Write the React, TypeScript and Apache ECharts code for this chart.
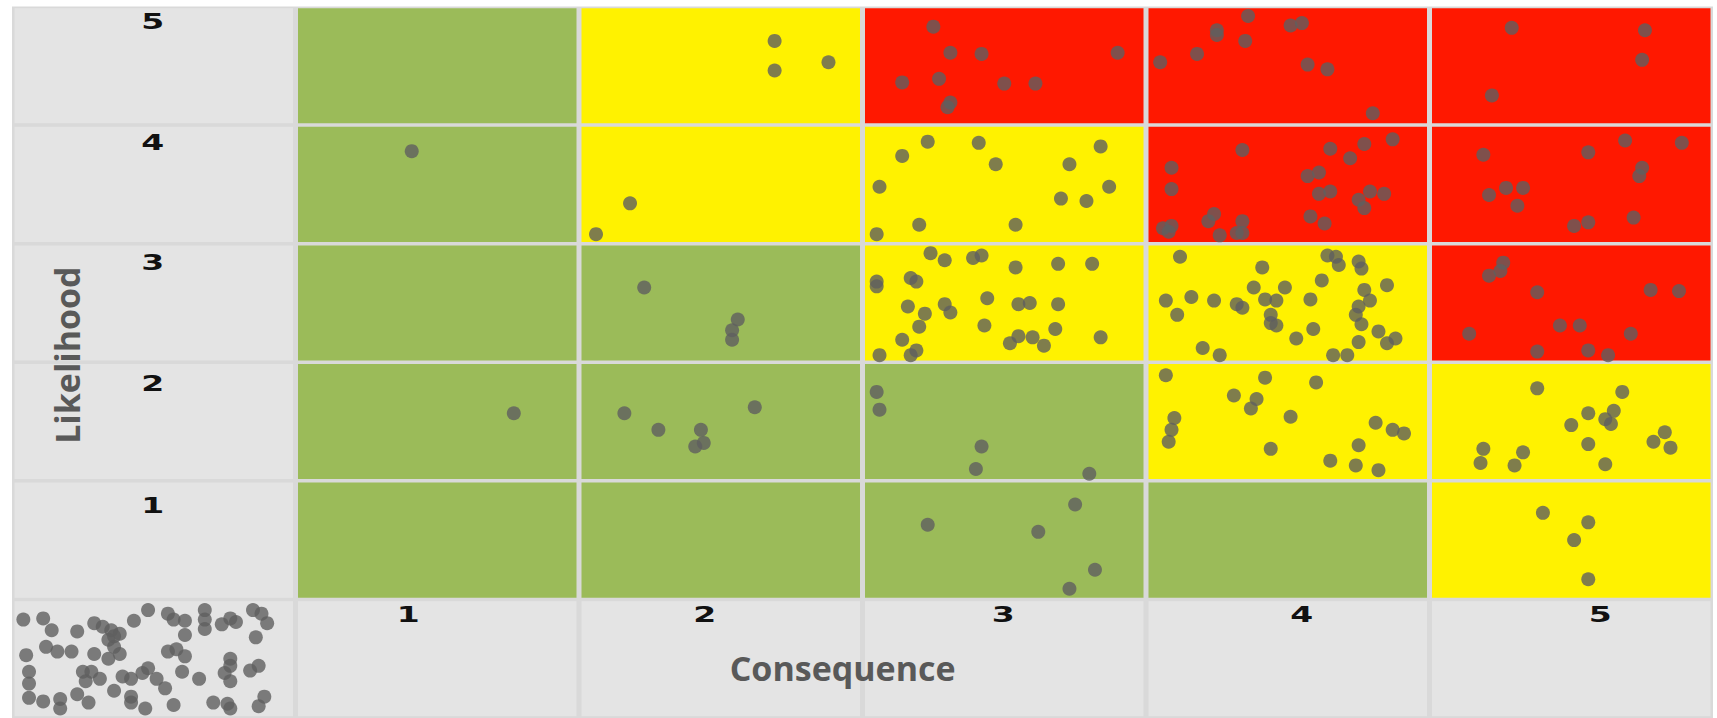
import React, { useEffect, useRef } from 'react';
import * as echarts from 'echarts';

// Axis tick labels
const consequenceLabels = ['1', '2', '3', '4', '5'];
const likelihoodLabels = ['1', '2', '3', '4', '5'];
const xAxisTitle = 'Consequence';
const yAxisTitle = 'Likelihood';

// Risk level per cell: rows = likelihood 1..5, columns = consequence 1..5
// 0 = low (green), 1 = medium (yellow), 2 = high (red)
const riskLevels = [
  [0, 0, 0, 0, 1],
  [0, 0, 0, 1, 1],
  [0, 0, 1, 1, 2],
  [0, 1, 1, 2, 2],
  [0, 1, 2, 2, 2],
];
const levelColors = ['#9BBB59', '#FFF200', '#FF1800'];
const headerColor = '#E4E4E4';
const pointColor = '#5F5F5F';

// Individual risks: [consequence (jittered), likelihood (jittered)]
const likelihood5Risks = [
  [2.19, 5.21], [2.19, 4.96], [2.38, 5.03],
  [2.75, 5.33], [2.81, 5.11], [2.92, 5.10], [3.40, 5.11], [2.64, 4.86], [2.77, 4.89],
  [3.00, 4.85], [3.11, 4.85], [2.81, 4.69], [2.80, 4.65],
  [3.86, 5.42], [4.01, 5.34], [4.05, 5.36], [3.75, 5.30], [3.75, 5.26], [3.85, 5.21],
  [3.68, 5.10], [3.55, 5.03], [4.07, 5.01], [4.14, 4.97], [4.30, 4.60],
  [4.79, 5.32], [5.26, 5.30], [5.25, 5.05], [4.72, 4.75],
];

const likelihood4Risks = [
  [0.91, 4.28],
  [1.68, 3.84], [1.56, 3.58],
  [2.73, 4.36], [2.91, 4.35], [2.64, 4.24], [2.97, 4.17], [3.34, 4.32], [3.23, 4.17],
  [2.56, 3.98], [3.37, 3.98], [3.20, 3.88], [3.29, 3.86], [2.70, 3.66], [3.04, 3.66], [2.55, 3.58],
  [3.84, 4.29], [3.59, 4.14], [3.59, 3.96], [4.15, 4.30], [4.27, 4.34], [4.37, 4.38],
  [4.22, 4.22], [4.07, 4.07], [4.11, 4.10], [4.11, 3.92], [4.15, 3.94], [4.29, 3.94],
  [4.34, 3.92], [4.25, 3.87], [4.27, 3.80], [4.08, 3.73], [4.13, 3.67], [3.56, 3.63],
  [3.59, 3.65], [3.58, 3.60], [3.72, 3.69], [3.74, 3.75], [3.76, 3.57], [3.84, 3.69],
  [3.82, 3.59], [3.84, 3.59],
  [4.69, 4.25], [5.06, 4.27], [5.19, 4.37], [5.39, 4.35], [5.25, 4.14], [5.24, 4.07],
  [4.71, 3.91], [4.77, 3.97], [4.83, 3.97], [4.81, 3.82], [5.01, 3.65], [5.06, 3.68], [5.22, 3.72],
];

const likelihood3Risks = [
  [1.73, 3.13], [2.06, 2.86], [2.04, 2.77], [2.04, 2.69],
  [2.74, 3.42], [2.79, 3.36], [2.89, 3.38], [2.92, 3.40], [3.04, 3.30], [3.19, 3.33],
  [3.31, 3.33], [2.55, 3.18], [2.55, 3.14], [2.67, 3.21], [2.69, 3.18], [2.94, 3.04],
  [3.05, 2.99], [3.09, 3.00], [3.19, 2.99], [2.66, 2.97], [2.72, 2.91], [2.79, 2.99],
  [2.81, 2.92], [2.70, 2.80], [2.93, 2.81], [3.18, 2.78], [2.64, 2.69], [3.02, 2.66],
  [3.05, 2.72], [3.10, 2.71], [3.14, 2.64], [3.34, 2.71], [2.56, 2.56], [2.67, 2.56], [2.69, 2.60],
  [3.62, 3.39], [3.91, 3.30], [4.14, 3.40], [4.17, 3.39], [4.18, 3.32], [4.25, 3.35],
  [4.26, 3.29], [3.57, 3.02], [3.66, 3.05], [3.74, 3.02], [3.82, 2.99], [3.84, 2.96],
  [3.88, 3.13], [3.92, 3.03], [3.96, 3.02], [3.99, 3.13], [4.08, 3.03], [4.12, 3.19],
  [4.27, 3.11], [4.29, 3.02], [4.35, 3.15], [3.61, 2.90], [3.94, 2.90], [3.94, 2.83],
  [3.96, 2.81], [4.24, 2.90], [4.25, 2.97], [4.26, 2.82], [4.09, 2.78], [4.03, 2.70],
  [4.32, 2.76], [4.35, 2.66], [4.38, 2.70], [4.25, 2.67], [3.70, 2.62], [3.76, 2.56],
  [4.16, 2.56], [4.21, 2.56],
  [4.76, 3.34], [4.75, 3.27], [4.71, 3.23], [4.88, 3.09], [5.28, 3.11], [5.38, 3.10],
  [4.64, 2.74], [4.96, 2.81], [5.03, 2.81], [5.21, 2.74], [4.88, 2.59], [5.06, 2.60], [5.13, 2.56],
];

const likelihood2Risks = [
  [1.27, 2.07],
  [1.66, 2.07], [1.78, 1.93], [1.93, 1.93], [1.94, 1.82], [1.91, 1.79], [2.12, 2.12],
  [2.55, 2.25], [2.56, 2.10], [2.92, 1.79], [2.90, 1.60], [3.30, 1.56],
  [3.57, 2.39], [3.92, 2.37], [4.10, 2.33], [3.81, 2.22], [3.89, 2.19], [3.87, 2.11],
  [4.01, 2.04], [3.60, 2.03], [3.59, 1.93], [3.58, 1.83], [4.31, 1.99], [4.37, 1.93],
  [4.41, 1.90], [4.25, 1.80], [3.94, 1.77], [4.15, 1.67], [4.24, 1.63], [4.32, 1.59],
  [4.88, 2.28], [5.18, 2.25], [5.06, 2.07], [5.15, 2.09], [5.12, 2.02], [5.14, 1.98],
  [5.00, 1.97], [5.33, 1.91], [5.29, 1.83], [5.35, 1.78], [5.06, 1.81], [4.69, 1.77],
  [4.68, 1.65], [4.83, 1.74], [4.80, 1.63], [5.12, 1.64],
];

const likelihood1Risks = [
  [2.73, 1.13], [3.12, 1.07], [3.25, 1.30], [3.32, 0.75], [3.23, 0.59],
  [4.90, 1.23], [5.06, 1.15], [5.01, 1.00], [5.06, 0.67],
];

// Risks not yet rated (parked in the corner cell)
const unratedRisks = [
  [-0.46, 0.33], [-0.39, 0.34], [-0.36, 0.24], [-0.27, 0.23], [-0.21, 0.30], [-0.18, 0.27],
  [-0.15, 0.24], [-0.12, 0.21], [-0.07, 0.32], [-0.02, 0.41], [0.05, 0.38], [0.07, 0.33],
  [0.11, 0.32], [0.11, 0.20], [0.18, 0.41], [0.18, 0.33], [0.18, 0.25], [0.24, 0.29],
  [0.27, 0.34], [0.29, 0.31], [0.35, 0.41], [0.38, 0.38], [0.40, 0.30], [0.36, 0.18],
  [-0.45, 0.03], [-0.38, 0.10], [-0.34, 0.06], [-0.29, 0.06], [-0.21, 0.04], [-0.16, 0.00],
  [-0.14, 0.10], [-0.12, 0.04], [-0.16, 0.16], [-0.14, 0.19], [0.05, 0.06], [0.08, 0.08],
  [0.11, 0.02], [0.27, 0.00], [0.27, -0.06], [0.25, -0.12], [0.27, -0.19], [0.10, -0.11],
  [0.16, -0.17], [0.34, -0.10], [0.37, -0.06], [-0.44, -0.11], [-0.44, -0.21], [-0.25, -0.11],
  [-0.22, -0.11], [-0.19, -0.17], [-0.24, -0.19], [-0.11, -0.15], [-0.08, -0.17], [-0.04, -0.12],
  [-0.02, -0.08], [0.01, -0.17], [0.04, -0.25], [-0.14, -0.27], [-0.44, -0.33], [-0.39, -0.36],
  [-0.33, -0.34], [-0.27, -0.30], [-0.23, -0.37], [-0.33, -0.42], [-0.08, -0.32], [-0.08, -0.37],
  [-0.03, -0.42], [0.07, -0.39], [0.21, -0.37], [0.26, -0.38], [0.27, -0.42], [0.39, -0.32],
  [0.37, -0.40],
];

// Layout tweaks (pixels) for the header texts
const rowLabelDrop = [23, 20, 17, 16, 13]; // for likelihood 1..5
const colLabelShift = [-29, -16, -1, 14, 29]; // for consequence 1..5

export default function App() {
  const ref = useRef<HTMLDivElement>(null);

  useEffect(() => {
    if (!ref.current) return;
    const chart = echarts.init(ref.current, null, { renderer: 'svg' });

    const cells: number[][] = [];
    for (let l = 0; l <= 5; l++) cells.push([0, l, -1]);
    for (let c = 1; c <= 5; c++) cells.push([c, 0, -1]);
    for (let l = 1; l <= 5; l++) {
      for (let c = 1; c <= 5; c++) cells.push([c, l, riskLevels[l - 1][c - 1]]);
    }

    const allRisks = [
      ...likelihood5Risks,
      ...likelihood4Risks,
      ...likelihood3Risks,
      ...likelihood2Risks,
      ...likelihood1Risks,
      ...unratedRisks,
    ];

    chart.setOption({
      animation: false,
      backgroundColor: '#FFFFFF',
      grid: {
        left: 12,
        top: 6.5,
        width: 1701,
        height: 715,
        show: true,
        backgroundColor: '#D9D9D9',
        borderWidth: 0,
      },
      xAxis: {
        type: 'value',
        min: -0.5,
        max: 5.5,
        show: false,
      },
      yAxis: {
        type: 'value',
        min: -0.5,
        max: 5.5,
        show: false,
      },
      series: [
        {
          type: 'custom',
          silent: true,
          z: 1,
          encode: { x: 0, y: 1 },
          data: cells,
          renderItem: (params: any, api: any) => {
            const c = api.value(0);
            const l = api.value(1);
            const k = api.value(2);
            const a = api.coord([c - 0.5, l + 0.5]);
            const b = api.coord([c + 0.5, l - 0.5]);
            return {
              type: 'rect',
              shape: {
                x: a[0] + 2.5,
                y: a[1] + 1.75,
                width: b[0] - a[0] - 5,
                height: b[1] - a[1] - 3.5,
              },
              style: { fill: k < 0 ? headerColor : levelColors[k] },
            };
          },
        },
        {
          type: 'scatter',
          silent: true,
          z: 2,
          clip: false,
          symbol: 'circle',
          symbolSize: 14,
          itemStyle: { color: pointColor },
          data: allRisks,
        },
      ],
    });

    const toPx = (p: number[]) => chart.convertToPixel({ gridIndex: 0 }, p) as number[];
    const digitStyle = {
      fontSize: 22,
      fontWeight: 'bold',
      fontFamily: 'DejaVu Sans',
      fill: '#111111',
      align: 'center',
      verticalAlign: 'middle',
    };
    const graphic: any[] = [];
    likelihoodLabels.forEach((t, i) => {
      const l = i + 1;
      const p = toPx([0, l + 0.5]);
      graphic.push({
        type: 'text',
        x: p[0] - 1,
        y: p[1] + 1.75 + rowLabelDrop[i],
        scaleX: 1.5,
        style: { ...digitStyle, text: t },
        z: 10,
      });
    });
    consequenceLabels.forEach((t, i) => {
      const c = i + 1;
      const p = toPx([c, 0.5]);
      graphic.push({
        type: 'text',
        x: p[0] + colLabelShift[i],
        y: p[1] + 1.75 + 13,
        scaleX: 1.5,
        style: { ...digitStyle, text: t },
        z: 10,
      });
    });
    const cp = toPx([2.43, -0.08]);
    graphic.push({
      type: 'text',
      x: cp[0],
      y: cp[1],
      style: {
        text: xAxisTitle,
        fontSize: 34,
        fontWeight: 'bold',
        fontFamily: 'Open Sans',
        fill: '#595959',
        align: 'center',
        verticalAlign: 'middle',
      },
      z: 10,
    });
    const lp = toPx([-0.306, 2.56]);
    graphic.push({
      type: 'text',
      x: lp[0],
      y: lp[1],
      rotation: Math.PI / 2,
      style: {
        text: yAxisTitle,
        fontSize: 34,
        fontWeight: 'bold',
        fontFamily: 'Open Sans',
        fill: '#595959',
        align: 'center',
        verticalAlign: 'middle',
      },
      z: 10,
    });
    chart.setOption({ graphic });

    return () => chart.dispose();
  }, []);

  return (
    <div
      ref={ref}
      style={{ position: 'fixed', left: 0, top: 0, width: 1717, height: 718 }}
    />
  );
}
